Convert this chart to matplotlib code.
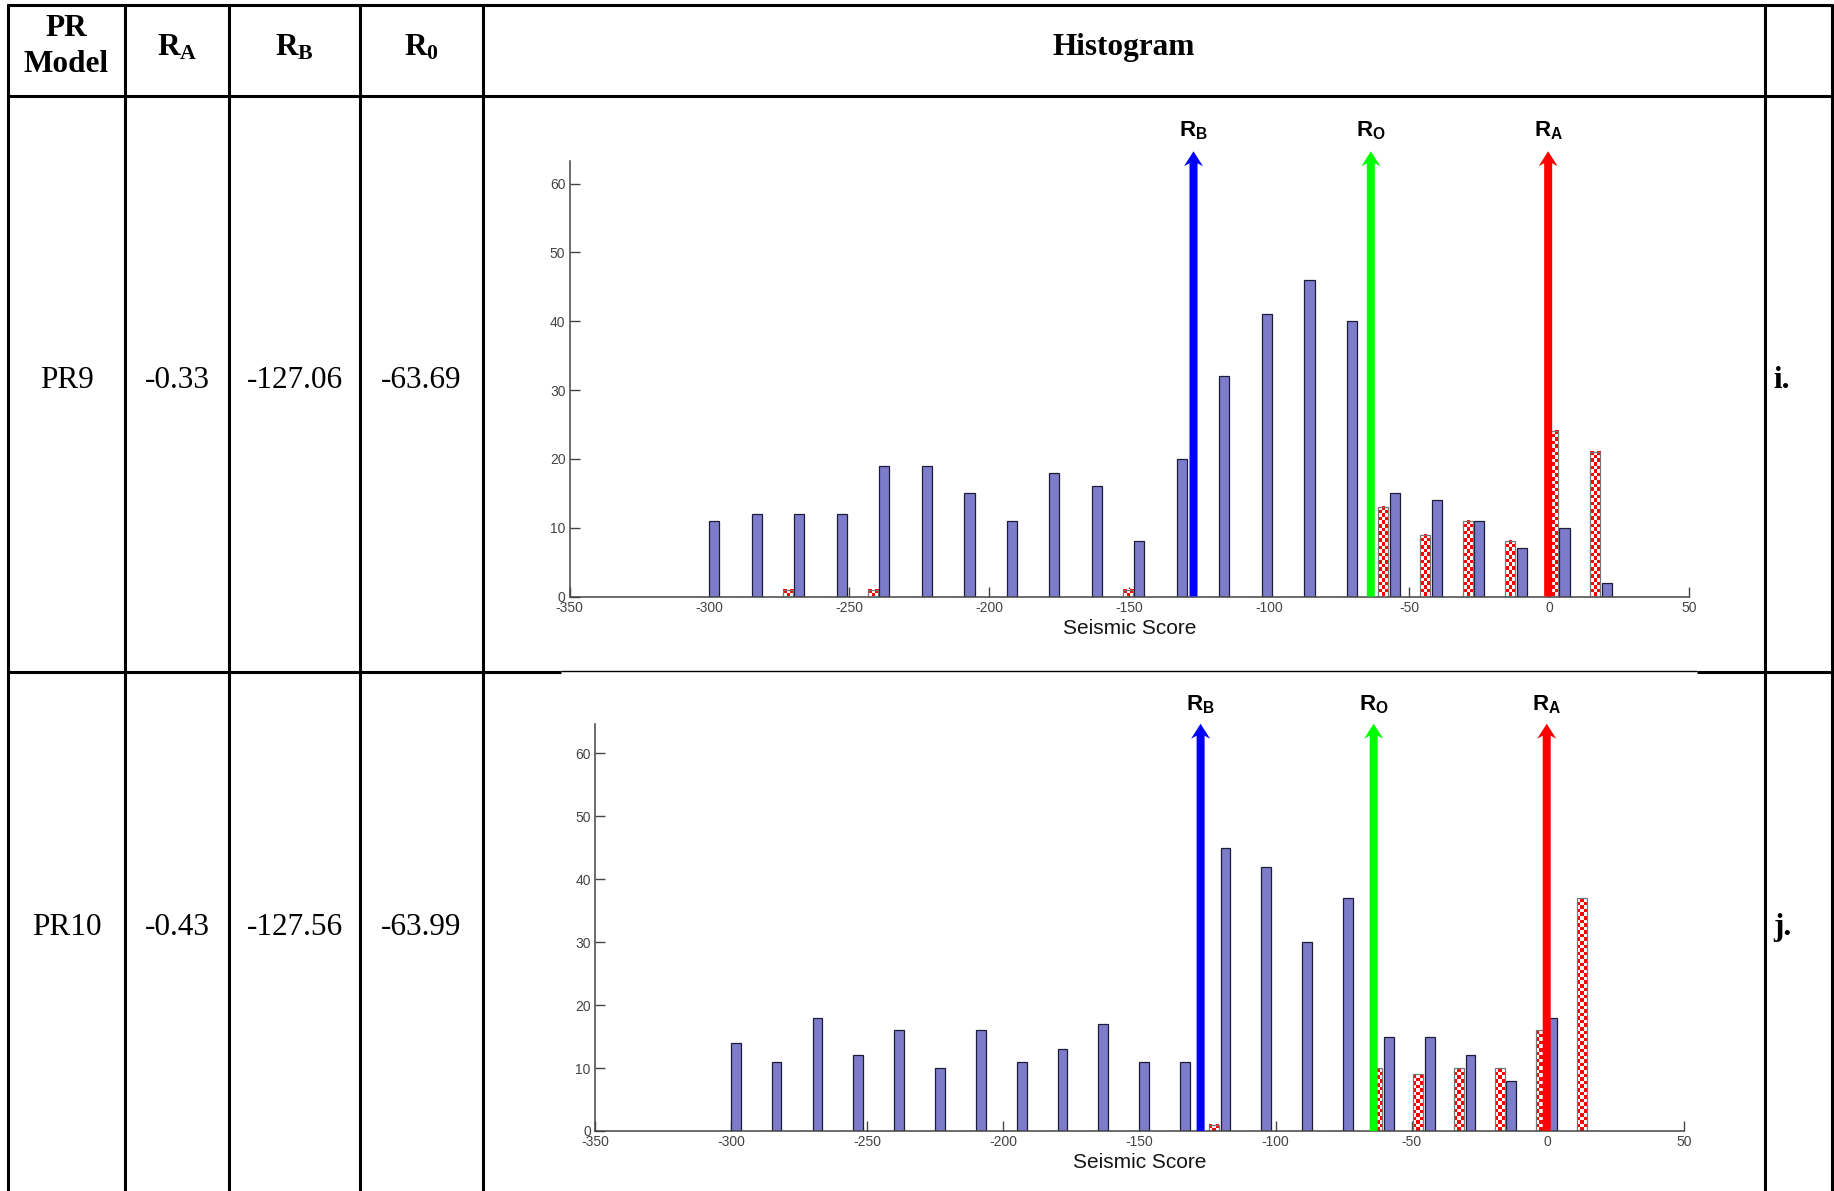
import numpy as np
import matplotlib
matplotlib.use("Agg")
import matplotlib.pyplot as plt
from matplotlib.colors import ListedColormap
from matplotlib.patches import FancyArrow

plt.rcParams["mathtext.fontset"] = "custom"
plt.rcParams["mathtext.rm"] = "Liberation Serif"
plt.rcParams["mathtext.bf"] = "Liberation Serif:bold"
plt.rcParams["mathtext.sf"] = "Liberation Sans:bold"
plt.rcParams["axes.unicode_minus"] = False
plt.rcParams["font.family"] = ["Liberation Sans", "DejaVu Sans"]

W, H = 1834, 1191

# ---- table content ----
models = ["PR9", "PR10"]
r_a = [-0.33, -0.43]
r_b = [-127.06, -127.56]
r_0 = [-63.69, -63.99]
tags = ["i.", "j."]

x_ticks = [-350, -300, -250, -200, -150, -100, -50, 0, 50]
y_ticks = [0, 10, 20, 30, 40, 50, 60]

# ---- histogram bins (group centres) and counts ----
pr9_bins = [-300.4, -285.2, -270.0, -254.8, -239.6, -224.4, -209.2, -194.1,
            -178.9, -163.7, -148.5, -133.3, -118.1, -102.9, -87.7, -72.5,
            -57.3, -42.2, -27.0, -11.8, 3.4, 18.6]
pr9_blue = [11, 12, 12, 12, 19, 19, 15, 11, 18, 16, 8, 20, 32, 41, 46, 40,
            15, 14, 11, 7, 10, 2]
pr9_red = [0, 0, 1, 0, 1, 0, 0, 0, 0, 0, 1, 0, 0, 0, 0, 0,
           13, 9, 11, 8, 24, 21]

pr10_bins = [-300.4, -285.4, -270.4, -255.4, -240.4, -225.4, -210.4, -195.4,
             -180.4, -165.4, -150.5, -135.5, -120.5, -105.5, -90.5, -75.5,
             -60.5, -45.5, -30.5, -15.5, -0.5, 14.5]
pr10_blue = [14, 11, 18, 12, 16, 10, 16, 11, 13, 17, 11, 11, 45, 42, 30, 37,
             15, 15, 12, 8, 18, 0]
pr10_red = [0, 0, 0, 0, 0, 0, 0, 0, 0, 0, 0, 0, 1, 0, 0, 0,
            10, 9, 10, 10, 16, 37]

BLUE = "#7c7cca"
BAR_W = 3.6
HALF_GAP = 2.1
ARROW_TOP = 64.7
LABEL_Y = 66.8
CELL_PX = 3.6

fig = plt.figure(figsize=(W / 100, H / 100), dpi=100)
fig.patch.set_facecolor("white")

# ---- table frame ----
tab = fig.add_axes([0, 0, 1, 1])
tab.set_xlim(0, W)
tab.set_ylim(H, 0)
tab.axis("off")
LW = 2.2
for x in [8, 125, 229, 360, 483, 1765, 1832]:
    tab.plot([x, x], [4, H], color="black", lw=LW, solid_capstyle="butt")
for y in [5, 96]:
    tab.plot([7, 1833], [y, y], color="black", lw=LW, solid_capstyle="butt")
tab.plot([7, 561], [672, 672], color="black", lw=LW, solid_capstyle="butt")
tab.plot([1697, 1833], [672, 672], color="black", lw=LW, solid_capstyle="butt")
tab.plot([561, 1697], [671, 671], color="black", lw=1.0, solid_capstyle="butt")

serif = "Liberation Serif"
FS = 22.5
tab.text(66, 36, "PR", ha="center", va="baseline", family=serif,
         weight="bold", fontsize=FS)
tab.text(66, 72, "Model", ha="center", va="baseline", family=serif,
         weight="bold", fontsize=FS)
for cx, sub in [(177, "A"), (294.5, "B"), (421.5, "0")]:
    tab.text(cx, 56, rf"$\mathbf{{R_{sub}}}$", ha="center", va="baseline",
             fontsize=FS)
tab.text(1124, 55, "Histogram", ha="center", va="baseline", family=serif,
         weight="bold", fontsize=FS)

row_base = [388, 935]
for i in range(2):
    yb = row_base[i]
    tab.text(66.5, yb, models[i], ha="center", va="baseline", family=serif,
             fontsize=FS)
    tab.text(177, yb, f"{r_a[i]:.2f}", ha="center", va="baseline",
             family=serif, fontsize=FS)
    tab.text(294.5, yb, f"{r_b[i]:.2f}", ha="center", va="baseline",
             family=serif, fontsize=FS)
    tab.text(421.5, yb, f"{r_0[i]:.2f}", ha="center", va="baseline",
             family=serif, fontsize=FS)
    tab.text(1773, yb, tags[i], ha="left", va="baseline", family=serif,
             weight="bold", fontsize=FS)


def draw_hist(left, right, y0_px, y60_px, ytop, bins, blue, red, ra, rb, r0):
    ppu_y = (y0_px - y60_px) / 60.0
    top = y0_px - ytop * ppu_y
    ax = fig.add_axes([left / W, 1 - y0_px / H, (right - left) / W,
                       (y0_px - top) / H])
    ax.patch.set_alpha(0)
    ppu_x = (right - left) / 400.0
    bins = np.asarray(bins, dtype=float)

    ax.bar(bins + HALF_GAP, blue, width=BAR_W, color=BLUE,
           edgecolor="#1d1d3a", linewidth=0.9, zorder=2)
    reds = ax.bar(bins - HALF_GAP, red, width=BAR_W, facecolor="none",
                  edgecolor="#777777", linewidth=0.9, zorder=2.3)
    checker = ListedColormap(["white", "#ff0000"])
    for p in reds:
        h = p.get_height()
        if h <= 0:
            continue
        nx = 3
        ny = max(1, int(round(h * ppu_y / CELL_PX)))
        board = np.indices((ny, nx)).sum(axis=0) % 2
        x0 = p.get_x()
        ax.imshow(board, cmap=checker, vmin=0, vmax=1,
                  extent=(x0, x0 + p.get_width(), 0, h), origin="lower",
                  aspect="auto", interpolation="nearest", zorder=2.2)

    ax.set_xlim(-350, 50)
    ax.set_ylim(0, ytop)
    ax.set_axisbelow(True)
    for s in ["top", "right"]:
        ax.spines[s].set_visible(False)
    for s in ["left", "bottom"]:
        ax.spines[s].set_color("#444444")
        ax.spines[s].set_linewidth(1.1)
    ax.set_xticks(x_ticks)
    ax.set_yticks(y_ticks)
    ax.tick_params(direction="in", length=7, width=1, colors="#444444",
                   labelsize=10, pad=3, top=False, right=False)
    ax.set_xlabel("Seismic Score", fontsize=15, color="#151515", labelpad=3)

    for val, col, sub in [(rb, "#0000ff", "B"), (r0, "#00ff00", "O"),
                          (ra, "#ff0000", "A")]:
        ax.add_patch(FancyArrow(val, 0, 0, ARROW_TOP, width=8 / ppu_x,
                                head_width=19 / ppu_x,
                                head_length=15 / ppu_y,
                                length_includes_head=True, overhang=0.2,
                                color=col, linewidth=0, clip_on=False,
                                zorder=4))
        ax.text(val, LABEL_Y, rf"$\mathsf{{R_{sub}}}$", ha="center",
                va="baseline", fontsize=16, clip_on=False)
    return ax


draw_hist(569.6, 1689, 596.5, 183.6, 63.3, pr9_bins, pr9_blue, pr9_red,
          r_a[0], r_b[0], r_0[0])
draw_hist(595, 1684, 1131, 753.3, 64.6, pr10_bins, pr10_blue, pr10_red,
          r_a[1], r_b[1], r_0[1])

fig.savefig("out.png", dpi=100, facecolor="white")
